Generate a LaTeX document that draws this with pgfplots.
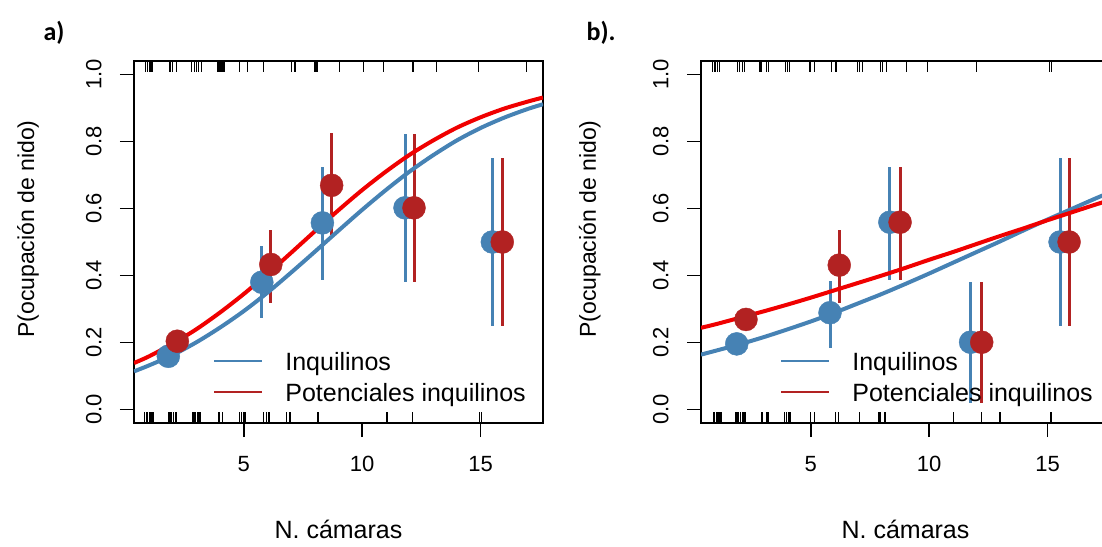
\documentclass[border=0pt]{standalone}
\usepackage{fontspec}
\setmainfont{Liberation Sans}
\newfontfamily\calibri{Carlito}
\usepackage{pgfplots}
\pgfplotsset{compat=1.18}
\definecolor{steelblue}{RGB}{70,130,180}
\definecolor{firebrick}{RGB}{178,34,34}
\definecolor{curvered}{RGB}{240,0,0}

\pgfplotsset{
  panel/.style={
    width=409pt, height=362pt, scale only axis,
    xmin=0.36, xmax=17.64, ymin=-0.04, ymax=1.04,
    xtick={5,10,15}, ytick={0,0.2,0.4,0.6,0.8,1},
    yticklabels={0.0,0.2,0.4,0.6,0.8,1.0},
    tick pos=left, tick align=outside, major tick length=14pt,
    axis line style={line width=1.8pt},
    tick style={black, line width=1.8pt},
    /pgf/number format/assume math mode=true,
    xticklabel style={font=\fontsize{22}{26}\selectfont, yshift=-16pt},
    yticklabel style={font=\fontsize{22}{26}\selectfont, xshift=-15pt, rotate=90, anchor=south},
    xlabel={N. cámaras}, ylabel={P(ocupación de nido)},
    xlabel style={font=\fontsize{25}{30}\selectfont, at={(axis description cs:0.5,-0.3204)}, anchor=base},
    ylabel style={font=\fontsize{23}{27}\selectfont, anchor=center},
    legend style={anchor=north west, draw=none, fill=none, inner sep=0pt, outer sep=0pt,
      font=\fontsize{25}{30}\selectfont, row sep=13pt, column sep=0pt,
      nodes={inner sep=0pt, text height=18pt, text depth=0pt}},
    legend cell align=left,
    legend image code/.code={\draw[##1, line width=2.5pt] (0pt,0pt) -- (48pt,0pt); \path (71pt,0pt);},
  },
  rug/.style={forget plot, only marks, mark=|, mark size=5.5pt, mark options={black, line width=1.2pt}},
  pts/.style={forget plot, only marks, mark=*, mark size=11.5pt, color=#1,
    mark options={fill=#1, draw=none},
    error bars/.cd, y dir=both, y explicit, error mark=none,
    error bar style={line width=3pt, #1}},
  fit/.style={forget plot, smooth, no marks, line width=4pt, #1},
}

\begin{document}
\begin{tikzpicture}[x=1pt,y=1pt]
\useasboundingbox (0,0) rectangle (1102,546);
\clip (0,0) rectangle (1102,546);

\node[anchor=base west, font=\calibri\bfseries\fontsize{26}{30}\selectfont] at (40,505) {a)};
\node[anchor=base west, font=\calibri\bfseries\fontsize{26}{30}\selectfont] at (583,505) {b).};

% panel a
\begin{axis}[panel, at={(134pt,123pt)}, anchor=south west,
  ylabel style={at={(axis description cs:-0.259,0.536)}},
  legend style={at={(axis description cs:0.193,0.196)}}]
\addplot[rug] coordinates {
 (0.85,1.0236) (0.92,1.0236) (1.0,1.0236) (1.08,1.0236) (1.13,1.0236)
 (1.88,1.0236) (1.99,1.0236) (2.16,1.0236)
 (2.8,1.0236) (2.9,1.0236) (3.0,1.0236) (3.1,1.0236) (3.22,1.0236)
 (3.88,1.0236) (3.92,1.0236) (3.97,1.0236) (4.02,1.0236) (4.08,1.0236) (4.16,1.0236)
 (4.81,1.0236) (5.16,1.0236) (5.82,1.0236) (7.02,1.0236) (7.16,1.0236)
 (8.0,1.0236) (8.05,1.0236) (8.1,1.0236) (9.03,1.0236) (10.05,1.0236)
 (10.89,1.0236) (12.15,1.0236) (13.14,1.0236) (14.9,1.0236) (16.94,1.0236)};
\addplot[rug] coordinates {
 (0.82,-0.0236) (0.88,-0.0236) (0.94,-0.0236) (1.0,-0.0236) (1.06,-0.0236) (1.12,-0.0236) (1.18,-0.0236)
 (1.84,-0.0236) (1.9,-0.0236) (1.96,-0.0236) (2.04,-0.0236) (2.1,-0.0236) (2.16,-0.0236)
 (2.82,-0.0236) (2.88,-0.0236) (2.94,-0.0236) (3.03,-0.0236) (3.09,-0.0236) (3.15,-0.0236)
 (3.95,-0.0236) (4.11,-0.0236) (4.81,-0.0236) (4.9,-0.0236) (4.98,-0.0236) (5.05,-0.0236)
 (5.82,-0.0236) (5.96,-0.0236) (6.06,-0.0236) (6.81,-0.0236) (6.95,-0.0236)
 (8.1,-0.0236) (8.14,-0.0236) (11.05,-0.0236) (12.13,-0.0236) (14.97,-0.0236) (15.05,-0.0236)};
\addplot[pts=steelblue] coordinates {
 (1.81,0.159) += (0,0) -= (0,0)
 (5.76,0.380) += (0,0.107) -= (0,0.106)
 (8.32,0.557) += (0,0.166) -= (0,0.169)
 (11.81,0.602) += (0,0.219) -= (0,0.222)
 (15.50,0.500) += (0,0.251) -= (0,0.251)};
\addplot[pts=firebrick] coordinates {
 (2.19,0.204) += (0,0) -= (0,0)
 (6.14,0.433) += (0,0.104) -= (0,0.115)
 (8.71,0.669) += (0,0.157) -= (0,0.147)
 (12.19,0.602) += (0,0.219) -= (0,0.222)
 (15.92,0.500) += (0,0.251) -= (0,0.251)};
\addplot[fit=steelblue] coordinates {
 (0.36,0.114) (1,0.132) (2,0.163) (3,0.201) (4,0.245) (5,0.294) (6,0.349)
 (7,0.409) (8,0.471) (9,0.534) (10,0.596) (11,0.655) (12,0.710) (13,0.759)
 (14,0.803) (15,0.840) (16,0.871) (17,0.897) (17.64,0.911)};
\addplot[fit=curvered] coordinates {
 (0.36,0.139) (1,0.159) (2,0.197) (3,0.240) (4,0.290) (5,0.345) (6,0.405)
 (7,0.468) (8,0.532) (9,0.595) (10,0.655) (11,0.710) (12,0.760) (13,0.803)
 (14,0.841) (15,0.872) (16,0.898) (17,0.919) (17.64,0.931)};
\addlegendimage{steelblue}
\addlegendentry{Inquilinos}
\addlegendimage{firebrick}
\addlegendentry{Potenciales inquilinos}
\end{axis}

% panel b
\begin{axis}[panel, at={(701pt,123pt)}, anchor=south west,
  ylabel style={at={(axis description cs:-0.272,0.536)}},
  legend style={at={(axis description cs:0.193,0.196)}}]
\addplot[rug] coordinates {
 (0.85,1.0236) (0.95,1.0236) (1.05,1.0236) (1.15,1.0236)
 (1.9,1.0236) (2.0,1.0236) (2.1,1.0236) (2.2,1.0236)
 (2.85,1.0236) (2.92,1.0236) (3.12,1.0236) (3.2,1.0236)
 (3.92,1.0236) (4.0,1.0236) (4.1,1.0236) (4.93,1.0236) (5.0,1.0236) (5.17,1.0236)
 (5.88,1.0236) (6.06,1.0236) (6.98,1.0236) (7.06,1.0236) (7.18,1.0236)
 (7.93,1.0236) (8.02,1.0236) (8.2,1.0236) (9.05,1.0236) (9.92,1.0236)
 (12.01,1.0236) (15.1,1.0236) (15.17,1.0236)};
\addplot[rug] coordinates {
 (0.88,-0.0236) (0.94,-0.0236) (1.0,-0.0236) (1.06,-0.0236) (1.12,-0.0236) (1.18,-0.0236) (1.23,-0.0236)
 (1.84,-0.0236) (1.9,-0.0236) (1.96,-0.0236) (2.03,-0.0236) (2.1,-0.0236) (2.16,-0.0236) (2.22,-0.0236)
 (2.9,-0.0236) (2.97,-0.0236) (3.15,-0.0236) (3.2,-0.0236)
 (3.9,-0.0236) (3.97,-0.0236) (4.05,-0.0236) (4.12,-0.0236) (5.0,-0.0236) (5.17,-0.0236)
 (6.05,-0.0236) (6.16,-0.0236) (7.04,-0.0236) (7.85,-0.0236) (7.92,-0.0236) (8.13,-0.0236)
 (11.02,-0.0236) (12.22,-0.0236) (12.99,-0.0236) (15.15,-0.0236)};
\addplot[pts=steelblue] coordinates {
 (1.87,0.196) += (0,0) -= (0,0)
 (5.81,0.289) += (0,0.094) -= (0,0.105)
 (8.34,0.559) += (0,0.164) -= (0,0.171)
 (11.75,0.201) += (0,0.179) -= (0,0.181)
 (15.53,0.500) += (0,0.251) -= (0,0.251)};
\addplot[pts=firebrick] coordinates {
 (2.26,0.269) += (0,0) -= (0,0)
 (6.20,0.431) += (0,0.106) -= (0,0.113)
 (8.77,0.559) += (0,0.164) -= (0,0.171)
 (12.22,0.201) += (0,0.179) -= (0,0.181)
 (15.91,0.500) += (0,0.251) -= (0,0.251)};
\addplot[fit=steelblue] coordinates {
 (0.36,0.164) (1,0.176) (2,0.195) (3,0.216) (4,0.239) (5,0.263) (6,0.289)
 (7,0.317) (8,0.345) (9,0.375) (10,0.406) (11,0.438) (12,0.470) (13,0.502)
 (14,0.535) (15,0.567) (16,0.598) (17,0.629) (17.64,0.648)};
\addplot[fit=curvered] coordinates {
 (0.36,0.244) (1,0.255) (2,0.274) (3,0.293) (4,0.313) (5,0.334) (6,0.356)
 (7,0.378) (8,0.400) (9,0.423) (10,0.447) (11,0.470) (12,0.494) (13,0.518)
 (14,0.541) (15,0.565) (16,0.588) (17,0.611) (17.64,0.625)};
\addlegendimage{steelblue}
\addlegendentry{Inquilinos}
\addlegendimage{firebrick}
\addlegendentry{Potenciales inquilinos}
\end{axis}
\end{tikzpicture}
\end{document}
